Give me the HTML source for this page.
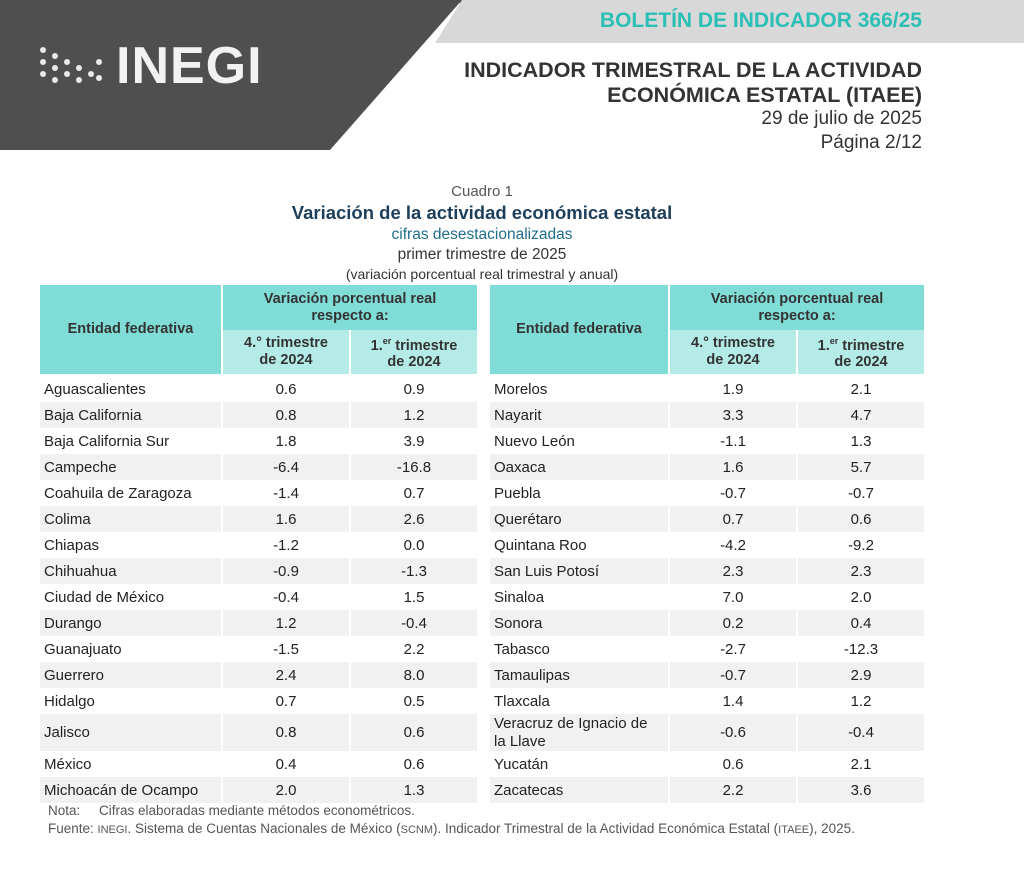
<!DOCTYPE html>
<html><head><meta charset="utf-8"><style>
body{margin:0;width:1024px;height:869px;background:#fff;font-family:"Liberation Sans",sans-serif;position:relative;overflow:hidden}
.a{position:absolute}
table{position:absolute;border-collapse:separate;border-spacing:2px 0;table-layout:fixed;font-size:15px;color:#222}
td{padding:0;height:26px;text-align:center}
td.n{text-align:left;padding-left:4px}
tr.g td{background:#f1f1f1}
th{font-weight:bold;font-size:14.5px;color:#333;line-height:17px;padding:0}
th.h{background:#80dcd6}
th.s{background:#b5ebe7}
.c{text-align:center;width:1024px;left:0}
</style></head><body>
<div class="a" style="left:0;top:0;width:1024px;height:3px;background:#555"></div>
<svg class="a" style="left:0;top:0" width="1024" height="152">
<polygon points="0,0 462,0 330,150 0,150" fill="#4f4f4f"/>
<polygon points="462,0 1024,0 1024,43 435,43" fill="#d8d8d8"/>
<g fill="#e8e8e8">
<circle cx="43" cy="50" r="3"/><circle cx="43" cy="62" r="3"/><circle cx="43" cy="74" r="3"/>
<circle cx="55" cy="56" r="3"/><circle cx="55" cy="68" r="3"/><circle cx="55" cy="80" r="3"/>
<circle cx="67" cy="62" r="3"/><circle cx="67" cy="74" r="3"/><circle cx="79" cy="68" r="3"/><circle cx="79" cy="80" r="3"/>
<circle cx="91" cy="74" r="3"/><circle cx="99" cy="62" r="3"/><circle cx="99" cy="78" r="3"/>
</g>
</svg>
<div class="a" style="left:116px;top:36px;font-size:52px;font-weight:bold;color:#f2f2f2;letter-spacing:1px">INEGI</div>
<div class="a" style="right:102px;top:9px;font-size:21px;font-weight:bold;color:#2bbfb5">BOLETÍN DE INDICADOR 366/25</div>
<div class="a" style="right:102px;top:58px;font-size:21.5px;font-weight:bold;color:#333;text-align:right;line-height:25px">INDICADOR TRIMESTRAL DE LA ACTIVIDAD<br>ECONÓMICA ESTATAL (ITAEE)</div>
<div class="a" style="right:102px;top:107px;font-size:19px;color:#333;text-align:right;line-height:24px">29 de julio de 2025<br>Página 2/12</div>
<div class="a c" style="top:183px;font-size:15px;color:#555;left:-30px">Cuadro 1</div>
<div class="a c" style="top:202px;font-size:18.5px;font-weight:bold;color:#1d3f5c;left:-30px">Variación de la actividad económica estatal</div>
<div class="a c" style="top:226px;font-size:15.5px;color:#1f6d8a;left:-30px">cifras desestacionalizadas</div>
<div class="a c" style="top:246px;font-size:15.5px;color:#333;left:-30px">primer trimestre de 2025</div>
<div class="a c" style="top:266px;font-size:14px;color:#333;left:-30px">(variación porcentual real trimestral y anual)</div>

<table style="left:38px;top:285px;width:439px">
<colgroup><col style="width:181px"><col style="width:126px"><col style="width:126px"></colgroup>
<tr><th class="h" rowspan="2" style="height:89px">Entidad federativa</th><th class="h" colspan="2" style="height:45px">Variación porcentual real<br>respecto a:</th></tr>
<tr><th class="s" style="height:44px">4.° trimestre<br>de 2024</th><th class="s">1.<sup style="font-size:9px">er</sup> trimestre<br>de 2024</th></tr>
<tr><td style="height:2px" colspan="3"></td></tr>
<tr><td class="n">Aguascalientes</td><td>0.6</td><td>0.9</td></tr>
<tr class="g"><td class="n">Baja California</td><td>0.8</td><td>1.2</td></tr>
<tr><td class="n">Baja California Sur</td><td>1.8</td><td>3.9</td></tr>
<tr class="g"><td class="n">Campeche</td><td>-6.4</td><td>-16.8</td></tr>
<tr><td class="n">Coahuila de Zaragoza</td><td>-1.4</td><td>0.7</td></tr>
<tr class="g"><td class="n">Colima</td><td>1.6</td><td>2.6</td></tr>
<tr><td class="n">Chiapas</td><td>-1.2</td><td>0.0</td></tr>
<tr class="g"><td class="n">Chihuahua</td><td>-0.9</td><td>-1.3</td></tr>
<tr><td class="n">Ciudad de México</td><td>-0.4</td><td>1.5</td></tr>
<tr class="g"><td class="n">Durango</td><td>1.2</td><td>-0.4</td></tr>
<tr><td class="n">Guanajuato</td><td>-1.5</td><td>2.2</td></tr>
<tr class="g"><td class="n">Guerrero</td><td>2.4</td><td>8.0</td></tr>
<tr><td class="n">Hidalgo</td><td>0.7</td><td>0.5</td></tr>
<tr class="g"><td class="n" style="height:37px">Jalisco</td><td>0.8</td><td>0.6</td></tr>
<tr><td class="n">México</td><td>0.4</td><td>0.6</td></tr>
<tr class="g"><td class="n">Michoacán de Ocampo</td><td>2.0</td><td>1.3</td></tr>
</table>

<table style="left:488px;top:285px;width:436px">
<colgroup><col style="width:178px"><col style="width:126px"><col style="width:126px"></colgroup>
<tr><th class="h" rowspan="2" style="height:89px">Entidad federativa</th><th class="h" colspan="2" style="height:45px">Variación porcentual real<br>respecto a:</th></tr>
<tr><th class="s" style="height:44px">4.° trimestre<br>de 2024</th><th class="s">1.<sup style="font-size:9px">er</sup> trimestre<br>de 2024</th></tr>
<tr><td style="height:2px" colspan="3"></td></tr>
<tr><td class="n">Morelos</td><td>1.9</td><td>2.1</td></tr>
<tr class="g"><td class="n">Nayarit</td><td>3.3</td><td>4.7</td></tr>
<tr><td class="n">Nuevo León</td><td>-1.1</td><td>1.3</td></tr>
<tr class="g"><td class="n">Oaxaca</td><td>1.6</td><td>5.7</td></tr>
<tr><td class="n">Puebla</td><td>-0.7</td><td>-0.7</td></tr>
<tr class="g"><td class="n">Querétaro</td><td>0.7</td><td>0.6</td></tr>
<tr><td class="n">Quintana Roo</td><td>-4.2</td><td>-9.2</td></tr>
<tr class="g"><td class="n">San Luis Potosí</td><td>2.3</td><td>2.3</td></tr>
<tr><td class="n">Sinaloa</td><td>7.0</td><td>2.0</td></tr>
<tr class="g"><td class="n">Sonora</td><td>0.2</td><td>0.4</td></tr>
<tr><td class="n">Tabasco</td><td>-2.7</td><td>-12.3</td></tr>
<tr class="g"><td class="n">Tamaulipas</td><td>-0.7</td><td>2.9</td></tr>
<tr><td class="n">Tlaxcala</td><td>1.4</td><td>1.2</td></tr>
<tr class="g"><td class="n" style="height:37px;line-height:18px">Veracruz de Ignacio de<br>la Llave</td><td>-0.6</td><td>-0.4</td></tr>
<tr><td class="n">Yucatán</td><td>0.6</td><td>2.1</td></tr>
<tr class="g"><td class="n">Zacatecas</td><td>2.2</td><td>3.6</td></tr>
</table>

<div class="a" style="left:48px;top:803px;font-size:13.5px;color:#555">Nota:&nbsp;&nbsp;&nbsp;&nbsp;&nbsp;Cifras elaboradas mediante métodos econométricos.</div>
<div class="a" style="left:48px;top:821px;font-size:13.5px;color:#555;white-space:nowrap">Fuente: <span style="font-size:11px">INEGI</span>. Sistema de Cuentas Nacionales de México (<span style="font-size:11px">SCNM</span>). Indicador Trimestral de la Actividad Económica Estatal (<span style="font-size:11px">ITAEE</span>), 2025.</div>
</body></html>
